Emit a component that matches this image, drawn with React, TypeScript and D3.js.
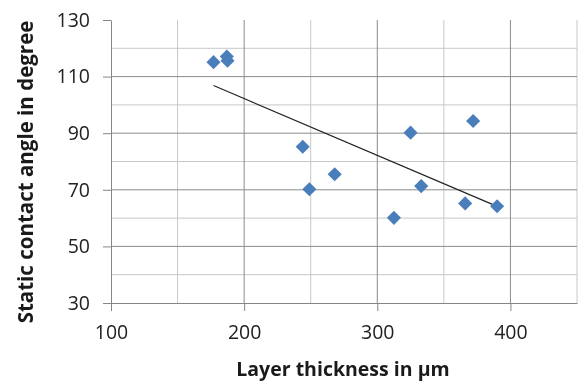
import React, { useRef, useEffect } from "react";
import * as d3 from "d3";

// layer thickness (µm) and static contact angle (degree)
const thickness = [177, 187, 187.5, 244, 249, 268, 325, 372, 333, 312.5, 366, 390];
const angle = [115.1, 117.1, 115.6, 85.2, 70.2, 75.5, 90.2, 94.3, 71.3, 60.1, 65.2, 64.2];

const xTicks = [100, 200, 300, 400];
const yTicks = [30, 50, 70, 90, 110, 130];

const width = 584;
const height = 381;
const margin = { top: 20, right: 7, bottom: 78, left: 111 };

const Chart: React.FC = () => {
  const svgRef = useRef<SVGSVGElement | null>(null);

  useEffect(() => {
    const svg = d3.select(svgRef.current);
    svg.selectAll("*").remove();

    const x = d3.scaleLinear().domain([100, 450]).range([margin.left, width - margin.right]);
    const y = d3.scaleLinear().domain([30, 130]).range([height - margin.bottom, margin.top]);
    const font = "'Open Sans', sans-serif";

    const grid = svg.append("g");
    // minor grid
    grid
      .selectAll(".vminor")
      .data(d3.range(150, 451, 100))
      .enter()
      .append("line")
      .attr("x1", (d) => x(d))
      .attr("x2", (d) => x(d))
      .attr("y1", y(30))
      .attr("y2", y(130))
      .attr("stroke", "#c8c8c8");
    grid
      .selectAll(".hminor")
      .data(d3.range(40, 131, 20))
      .enter()
      .append("line")
      .attr("x1", x(100))
      .attr("x2", x(450))
      .attr("y1", (d) => y(d))
      .attr("y2", (d) => y(d))
      .attr("stroke", "#c8c8c8");
    // major grid
    grid
      .selectAll(".vmajor")
      .data(xTicks.slice(1))
      .enter()
      .append("line")
      .attr("x1", (d) => x(d))
      .attr("x2", (d) => x(d))
      .attr("y1", y(30))
      .attr("y2", y(130))
      .attr("stroke", "#8c8c8c");
    grid
      .selectAll(".hmajor")
      .data(yTicks.slice(1, -1))
      .enter()
      .append("line")
      .attr("x1", x(100))
      .attr("x2", x(450))
      .attr("y1", (d) => y(d))
      .attr("y2", (d) => y(d))
      .attr("stroke", "#8c8c8c");

    // axes
    const xAxis = svg
      .append("g")
      .attr("transform", `translate(0,${y(30)})`)
      .call(d3.axisBottom(x).tickValues(xTicks).tickSize(8).tickPadding(14).tickSizeOuter(0));
    const yAxis = svg
      .append("g")
      .attr("transform", `translate(${x(100)},0)`)
      .call(d3.axisLeft(y).tickValues(yTicks).tickSize(8).tickPadding(13).tickSizeOuter(0));
    [xAxis, yAxis].forEach((a) => {
      a.selectAll("path, line").attr("stroke", "#868686");
      a.selectAll("text").attr("font-family", font).attr("font-size", 19.5).attr("fill", "#222");
    });

    // trend line (least squares)
    const mx = d3.mean(thickness)!;
    const my = d3.mean(angle)!;
    const slope =
      d3.sum(thickness, (t, i) => (t - mx) * (angle[i] - my)) / d3.sum(thickness, (t) => (t - mx) ** 2);
    const [x0, x1] = d3.extent(thickness) as [number, number];
    const f = (t: number) => my + slope * (t - mx);
    svg
      .append("line")
      .attr("x1", x(x0))
      .attr("y1", y(f(x0)))
      .attr("x2", x(x1))
      .attr("y2", y(f(x1)))
      .attr("stroke", "#222")
      .attr("stroke-width", 1.2);

    // markers
    const diamond = d3.symbol().type(d3.symbolSquare).size(100);
    svg
      .selectAll(".pt")
      .data(thickness)
      .enter()
      .append("path")
      .attr("d", diamond)
      .attr("transform", (d, i) => `translate(${x(d)},${y(angle[i])}) rotate(45)`)
      .attr("fill", "#4a7ebb");

    // titles
    svg
      .append("text")
      .attr("x", 343)
      .attr("y", 376)
      .attr("text-anchor", "middle")
      .attr("font-family", font)
      .attr("font-weight", "bold")
      .attr("font-size", 19.5)
      .attr("fill", "#1a1a1a")
      .text("Layer thickness in µm");
    svg
      .append("text")
      .attr("transform", `translate(33,172) rotate(-90)`)
      .attr("text-anchor", "middle")
      .attr("font-family", font)
      .attr("font-weight", "bold")
      .attr("font-size", 20.5)
      .attr("fill", "#1a1a1a")
      .text("Static contact angle in degree");
  }, []);

  return (
    <svg
      ref={svgRef}
      width={width}
      height={height}
      style={{ display: "block", position: "fixed", left: 0, top: 0 }}
    />
  );
};

export default function App() {
  return <Chart />;
}
